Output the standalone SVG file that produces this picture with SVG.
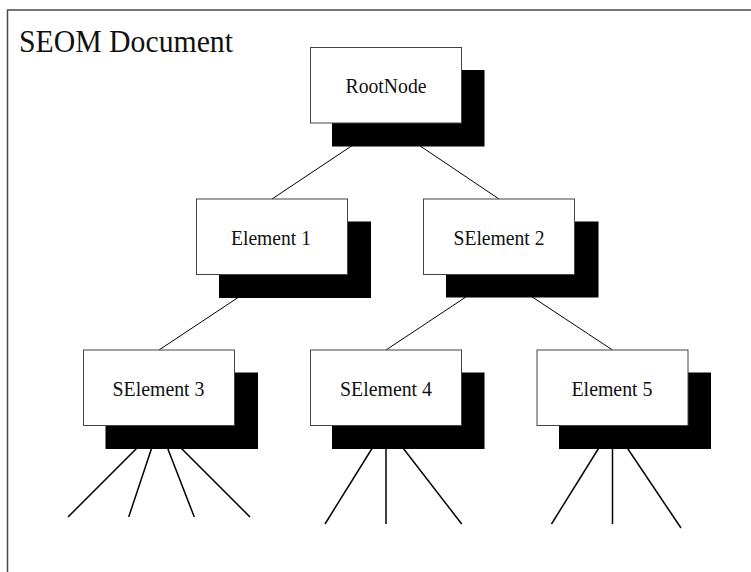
<svg xmlns="http://www.w3.org/2000/svg" width="751" height="572" viewBox="0 0 751 572">
  <defs>
    <style>
      .frame { fill: none; stroke: #4a4a4a; stroke-width: 1.5; }
      .edge { stroke: #000; stroke-width: 1; fill: none; }
      .leaf { stroke: #000; stroke-width: 1.5; fill: none; }
      .shadow { fill: #000; }
      .box { fill: #fff; stroke: #444; stroke-width: 1; }
      text { font-family: "Liberation Serif", "Times New Roman", serif; fill: #111; }
      .label { font-size: 22px; text-anchor: middle; }
      .title { font-size: 32px; }
    </style>
  </defs>

  <rect width="751" height="572" fill="#fff"/>

  <!-- document frame (top and left edges) -->
  <path class="frame" d="M7.5,572 V10 H751"/>
  <text class="title" x="19" y="52" textLength="214" lengthAdjust="spacingAndGlyphs">SEOM Document</text>

  <!-- connectors: drawn first so node shadows cover their ends -->
  <g id="connectors">
    <line class="edge" x1="386" y1="123" x2="272" y2="199"/>
    <line class="edge" x1="386" y1="123" x2="499" y2="199"/>
    <line class="edge" x1="272" y1="275" x2="159" y2="350"/>
    <line class="edge" x1="499" y1="275" x2="386" y2="350"/>
    <line class="edge" x1="499" y1="275" x2="612.5" y2="350"/>

    <line class="leaf" x1="159" y1="426" x2="68" y2="517"/>
    <line class="leaf" x1="159" y1="426" x2="128.7" y2="517"/>
    <line class="leaf" x1="159" y1="426" x2="194.3" y2="517"/>
    <line class="leaf" x1="159" y1="426" x2="250" y2="517"/>

    <line class="leaf" x1="386" y1="426" x2="325" y2="524"/>
    <line class="leaf" x1="386" y1="426" x2="386" y2="524"/>
    <line class="leaf" x1="386" y1="426" x2="461.7" y2="524"/>

    <line class="leaf" x1="612.5" y1="426" x2="551.5" y2="524"/>
    <line class="leaf" x1="612.5" y1="426" x2="612.5" y2="524"/>
    <line class="leaf" x1="612.5" y1="426" x2="681" y2="528"/>
  </g>

  <g id="root-node">
    <rect class="shadow" x="332" y="70" width="152.5" height="76.5"/>
    <rect class="box" x="310.5" y="47.5" width="151" height="75.5"/>
    <text class="label" x="386" y="93" textLength="81" lengthAdjust="spacingAndGlyphs">RootNode</text>
  </g>

  <g id="element-1">
    <rect class="shadow" x="219" y="221.5" width="152" height="76.5"/>
    <rect class="box" x="196.5" y="199" width="151" height="75.5"/>
    <text class="label" x="271" y="244.5" textLength="80" lengthAdjust="spacingAndGlyphs">Element 1</text>
  </g>

  <g id="selement-2">
    <rect class="shadow" x="446" y="221.5" width="152.5" height="76"/>
    <rect class="box" x="423.5" y="199" width="151" height="75.5"/>
    <text class="label" x="499" y="244.5" textLength="91" lengthAdjust="spacingAndGlyphs">SElement 2</text>
  </g>

  <g id="selement-3">
    <rect class="shadow" x="105.5" y="372.5" width="152.5" height="76.5"/>
    <rect class="box" x="83.5" y="350" width="151" height="75.5"/>
    <text class="label" x="158.5" y="395.5" textLength="92" lengthAdjust="spacingAndGlyphs">SElement 3</text>
  </g>

  <g id="selement-4">
    <rect class="shadow" x="332" y="372.5" width="152.5" height="76.5"/>
    <rect class="box" x="310.5" y="350" width="151" height="75.5"/>
    <text class="label" x="386" y="395.5" textLength="92" lengthAdjust="spacingAndGlyphs">SElement 4</text>
  </g>

  <g id="element-5">
    <rect class="shadow" x="559" y="372.5" width="152" height="76.5"/>
    <rect class="box" x="537" y="350" width="151" height="75.5"/>
    <text class="label" x="612" y="395.5" textLength="81" lengthAdjust="spacingAndGlyphs">Element 5</text>
  </g>
</svg>
